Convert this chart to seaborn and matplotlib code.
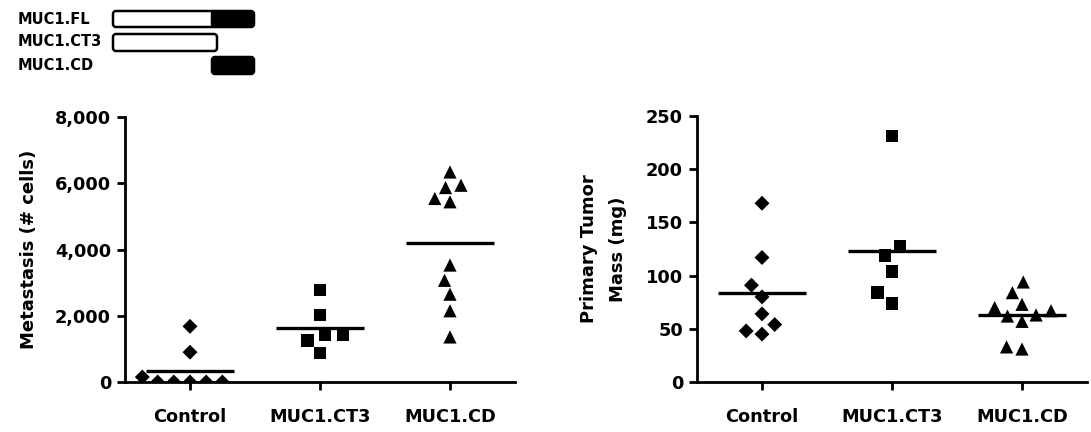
import numpy as np
import pandas as pd
import seaborn as sns
import matplotlib
matplotlib.use("Agg")
import matplotlib.pyplot as plt
from matplotlib.patches import FancyBboxPatch

# ---------------- data ----------------
cats = ["Control", "MUC1.CT3", "MUC1.CD"]
markers = ["D", "s", "^"]
marker_sizes = [7.6, 9.0, 9.5]
swarm_gaps = [3.5, 3.5, 1.2]

met_control = [0, 0, 0, 0, 0, 150, 900, 1680]
met_ct3 = [2780, 2020, 1430, 1420, 1260, 880]
met_cd = [6340, 5940, 5870, 5540, 5440, 3530, 3070, 2650, 2150, 1360]

mass_control = [168, 117, 91, 80, 64, 54, 48, 45]
mass_ct3 = [231, 128, 119, 104, 84, 74]
mass_cd = [94, 84, 73, 70, 67, 63, 62, 57, 33, 31]

met_ticks = [0, 2000, 4000, 6000, 8000]
met_ticklabels = ["0", "2,000", "4,000", "6,000", "8,000"]
mass_ticks = [0, 50, 100, 150, 200, 250]
mass_ticklabels = ["0", "50", "100", "150", "200", "250"]

construct_labels = ["MUC1.FL", "MUC1.CT3", "MUC1.CD"]

# ---------------- style ----------------
sns.set_style("ticks")
plt.rcParams["font.family"] = ["DejaVu Sans"]
plt.rcParams["font.weight"] = "bold"
for k in ["text.color", "axes.labelcolor", "xtick.color", "ytick.color", "axes.edgecolor"]:
    plt.rcParams[k] = "black"

W, H = 1091, 432
fig = plt.figure(figsize=(W / 100, H / 100), dpi=100)

def px_axes(x0, y_top, x1, y_bot):
    return fig.add_axes([x0 / W, 1 - y_bot / H, (x1 - x0) / W, (y_bot - y_top) / H])

ax1 = px_axes(125, 117, 515, 382)
ax2 = px_axes(697, 116, 1087, 382)

def make_df(groups):
    rows = []
    for c, vals in zip(cats, groups):
        for v in vals:
            rows.append((c, v))
    return pd.DataFrame(rows, columns=["group", "value"])

def draw_panel(ax, groups, ticks, ticklabels, ylabel, labelpad):
    df = make_df(groups)
    for c, m, s, g in zip(cats, markers, marker_sizes, swarm_gaps):
        sub = df[df["group"] == c]
        sns.swarmplot(data=sub, x="group", y="value", order=cats, marker=m,
                      size=s, color="black", linewidth=g, edgecolor="none",
                      ax=ax, warn_thresh=1)
    sns.pointplot(data=df, x="group", y="value", order=cats, errorbar=None,
                  linestyle="none", markers="_", markersize=64,
                  markeredgewidth=2.4, color="black", ax=ax)
    ax.set_xlim(-0.5, 2.5)
    ax.set_ylim(ticks[0], ticks[-1])
    ax.set_yticks(ticks)
    ax.set_yticklabels(ticklabels)
    ax.set_xlabel("")
    ax.set_ylabel(ylabel, fontsize=13, fontweight="bold", labelpad=labelpad,
                  linespacing=1.75)
    for sp in ["top", "right"]:
        ax.spines[sp].set_visible(False)
    for sp in ["left", "bottom"]:
        ax.spines[sp].set_linewidth(2.0)
    ax.tick_params(axis="y", length=6, width=2.0, labelsize=12.8, pad=4)
    ax.tick_params(axis="x", length=6, width=2.0, labelsize=12.8, pad=13)
    for lab in ax.get_xticklabels() + ax.get_yticklabels():
        lab.set_fontweight("bold")

draw_panel(ax1, [met_control, met_ct3, met_cd], met_ticks, met_ticklabels,
           "Metastasis (# cells)", 12)
draw_panel(ax2, [mass_control, mass_ct3, mass_cd], mass_ticks, mass_ticklabels,
           "Primary Tumor\nMass (mg)", 14)

# ---------------- construct diagram (top-left) ----------------
ov = fig.add_axes([0, 0, 1, 1])
ov.set_xlim(0, W)
ov.set_ylim(H, 0)
ov.axis("off")

text_y = [19, 42, 65]
for lab, ty in zip(construct_labels, text_y):
    ov.text(18, ty, lab, fontsize=10.5, fontweight="bold", va="center", ha="left")

def rbox(x0, y0, x1, y1, fc):
    ov.add_patch(FancyBboxPatch((x0, y0), x1 - x0, y1 - y0,
                                boxstyle="round,pad=0,rounding_size=3",
                                fc=fc, ec="black", lw=1.8))

# FL: extracellular (white) + cytoplasmic domain (black)
rbox(113, 11, 216, 27, "white")
rbox(212, 11, 254, 27, "black")
# CT3: extracellular only
rbox(113, 34, 217, 51, "white")
# CD: cytoplasmic domain only
rbox(212, 57, 254, 74, "black")

fig.savefig("out.png", dpi=100)
